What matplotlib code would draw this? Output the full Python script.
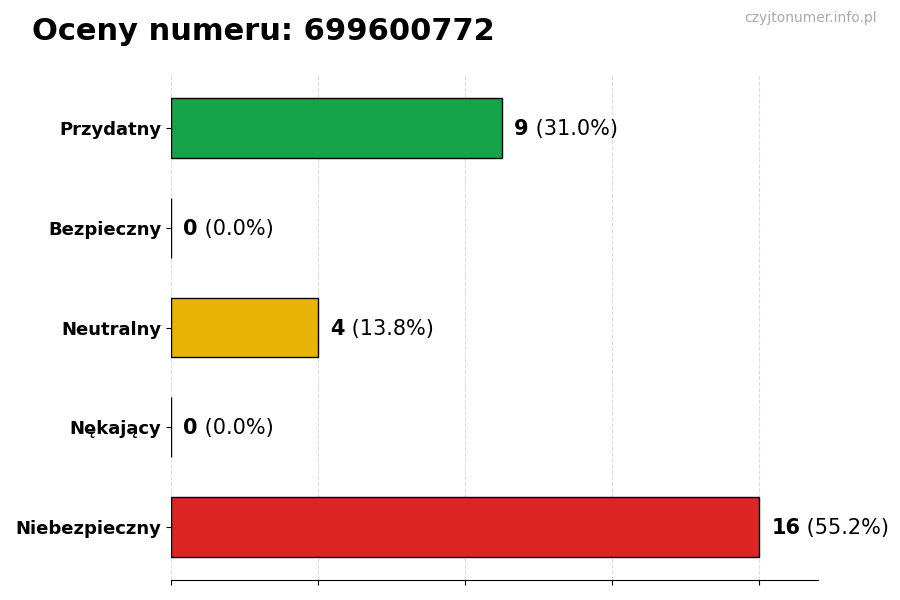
import matplotlib
matplotlib.use("Agg")
import matplotlib.pyplot as plt

categories = ["Przydatny", "Bezpieczny", "Neutralny", "Nękający", "Niebezpieczny"]
counts = [9, 0, 4, 0, 16]
percents = [31.0, 0.0, 13.8, 0.0, 55.2]
colors = ["#16a34a", "#16a34a", "#eab308", "#dc2626", "#dc2626"]
xticks = [0, 4, 8, 12, 16]

fig = plt.figure(figsize=(9, 6), dpi=100)
ax = fig.add_axes([0.19, 0.0333, 0.719, 0.8417])

ypos = list(range(len(categories)))[::-1]
ax.barh(ypos, counts, height=0.6, color=colors, edgecolor="black", linewidth=1, zorder=3)
ax.set_yticks(ypos)
ax.set_yticklabels(categories, fontsize=13, fontweight="bold")
ax.set_xticks(xticks)
ax.set_xticklabels([])
ax.set_xlim(0, max(counts) * 1.1)
ax.grid(axis="x", linestyle="--", color="#dddddd", linewidth=0.8, zorder=0)
for s in ["top", "right", "left"]:
    ax.spines[s].set_visible(False)

for y, c, p in zip(ypos, counts, percents):
    t = ax.text(c + 0.33, y - 0.01, f"{c}", fontsize=15, fontweight="bold", va="center", ha="left", zorder=4)
    ax.annotate(f" ({p:.1f}%)", xy=(1, 0.5), xycoords=t, va="center", ha="left", fontsize=15)

fig.text(0.036, 0.948, "Oceny numeru: 699600772", fontsize=22, fontweight="bold", va="center", ha="left")
fig.text(0.974, 0.970, "czyjtonumer.info.pl", fontsize=10, color="#aaaaaa", ha="right", va="center")

fig.savefig("out.png", dpi=100)
